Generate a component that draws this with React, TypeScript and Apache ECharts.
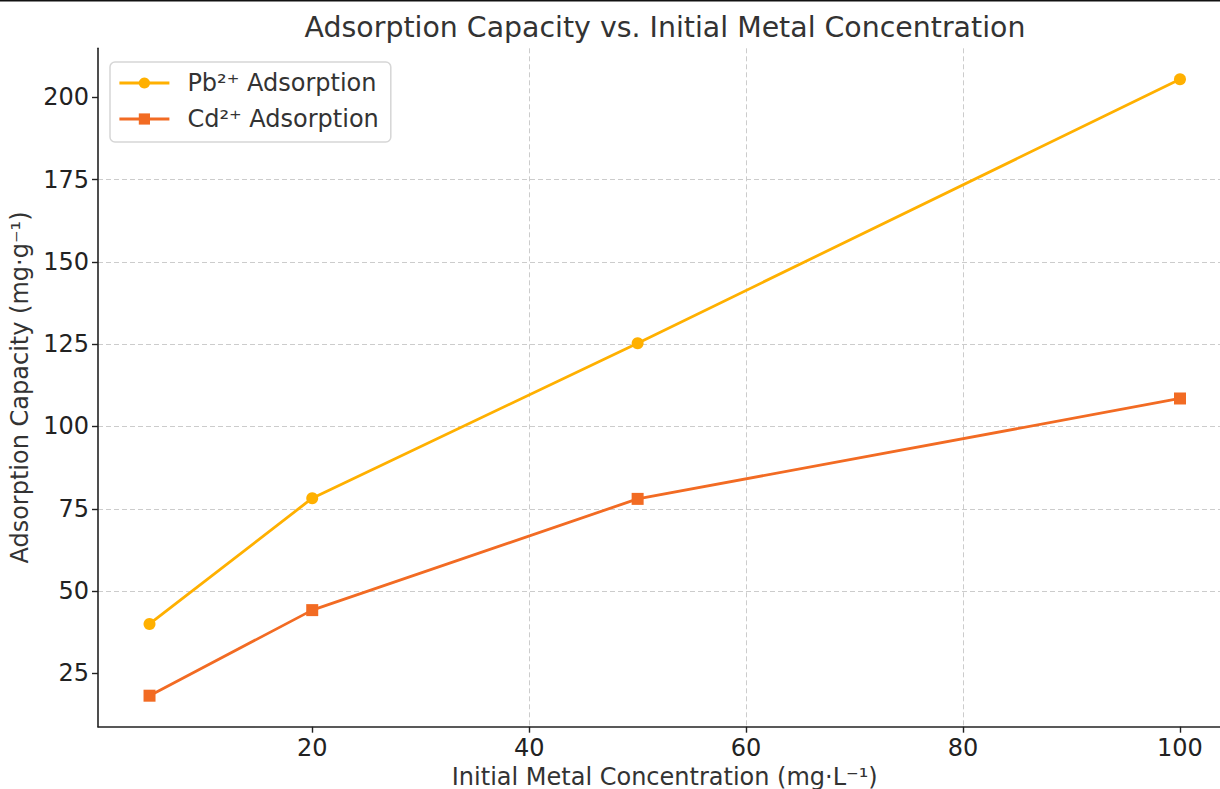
import React, { useEffect, useRef } from "react";
import * as echarts from "echarts";

const concentrations = [5, 20, 50, 100];
const pbValues = [40, 78.2, 125.3, 205.5];
const cdValues = [18.2, 44.2, 78, 108.5];
const xTicks = [20, 40, 60, 80, 100];
const yTicks = [25, 50, 75, 100, 125, 150, 175, 200];

const FONT = "DejaVu Sans";

export default function App() {
  const ref = useRef<HTMLDivElement>(null);
  useEffect(() => {
    if (!ref.current) return;
    const chart = echarts.init(ref.current, null, { renderer: "svg" });
    const axisLine = { show: true, lineStyle: { color: "#222", width: 1.6 } };
    const split = {
      show: true,
      showMinLine: false,
      showMaxLine: false,
      lineStyle: { color: "#cccccc", type: [5, 3], width: 1 },
    };
    chart.setOption({
      animation: false,
      backgroundColor: "#fff",
      textStyle: { fontFamily: FONT },
      title: {
        text: "Adsorption Capacity vs. Initial Metal Concentration",
        left: 665,
        top: 13,
        padding: 0,
        textAlign: "center",
        textStyle: { fontFamily: FONT, fontSize: 28.4, fontWeight: "normal", color: "#333" },
      },
      graphic: [
        { type: "rect", shape: { x: 0, y: 0, width: 1232, height: 1.5 }, style: { fill: "#111" } },
      ],
      legend: {
        orient: "vertical",
        left: 110,
        top: 62,
        padding: [9, 12, 11, 8],
        itemWidth: 50,
        itemHeight: 14,
        itemGap: 12,
        borderColor: "#d6d6d6",
        borderWidth: 1.5,
        borderRadius: 5,
        backgroundColor: "rgba(255,255,255,0.85)",
        lineStyle: { width: 2.8 },
        textStyle: { fontFamily: FONT, fontSize: 24, color: "#333", padding: [0, 0, 0, 13] },
        data: ["Pb²⁺ Adsorption", "Cd²⁺ Adsorption"],
      },
      grid: {
        left: 98,
        top: 48.3,
        width: 1133.5,
        height: 678.4,
        containLabel: false,
        outerBoundsMode: "none",
      },
      xAxis: {
        type: "value",
        min: 0.25,
        max: 104.75,
        name: "Initial Metal Concentration (mg·L⁻¹)",
        nameLocation: "middle",
        nameGap: 37,
        nameTextStyle: { fontFamily: FONT, fontSize: 24, color: "#333" },
        axisLine,
        axisTick: { show: true, customValues: xTicks, length: 6, lineStyle: { color: "#222", width: 1.4 } },
        axisLabel: { customValues: xTicks, fontFamily: FONT, fontSize: 24, color: "#222", margin: 9 },
        splitLine: split,
      },
      yAxis: {
        type: "value",
        min: 8.78,
        max: 214.9,
        name: "Adsorption Capacity (mg·g⁻¹)",
        nameLocation: "middle",
        nameGap: 64,
        nameTextStyle: { fontFamily: FONT, fontSize: 24, color: "#333" },
        axisLine,
        axisTick: { show: true, customValues: yTicks, length: 6, lineStyle: { color: "#222", width: 1.4 } },
        axisLabel: { customValues: yTicks, fontFamily: FONT, fontSize: 24, color: "#222", margin: 9 },
        splitLine: split,
      },
      series: [
        {
          name: "Pb²⁺ Adsorption",
          type: "line",
          data: concentrations.map((x, i) => [x, pbValues[i]]),
          symbol: "circle",
          symbolSize: 12,
          lineStyle: { color: "#FFB000", width: 2.8 },
          itemStyle: { color: "#FFB000" },
          z: 3,
        },
        {
          name: "Cd²⁺ Adsorption",
          type: "line",
          data: concentrations.map((x, i) => [x, cdValues[i]]),
          symbol: "rect",
          symbolSize: 12,
          lineStyle: { color: "#F26B23", width: 2.8 },
          itemStyle: { color: "#F26B23" },
          z: 3,
        },
      ],
    });
    return () => chart.dispose();
  }, []);
  return (
    <div style={{ position: "fixed", left: 0, top: 0, width: 1220, height: 789, overflow: "hidden", background: "#fff" }}>
      <div ref={ref} style={{ width: 1232, height: 789 }} />
    </div>
  );
}
